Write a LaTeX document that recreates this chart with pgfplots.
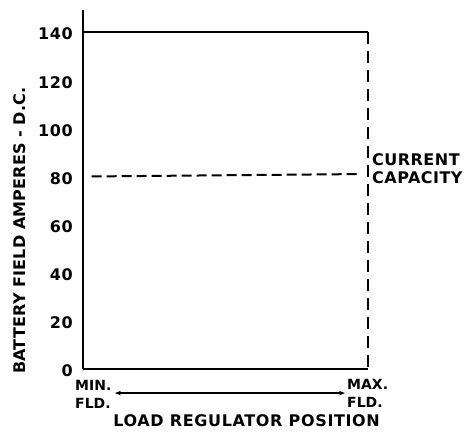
\documentclass[border=0pt]{standalone}
\usepackage{pgfplots}
\pgfplotsset{compat=1.18}
\usetikzlibrary{arrows.meta}
\usepackage{fontspec}
\setmainfont{DejaVu Sans}
\newcommand{\lf}[1]{\fontsize{#1}{#1}\selectfont\bfseries}
\newcommand{\ls}[1]{\fontsize{#1}{#1}\selectfont\bfseries\addfontfeature{LetterSpace=4}}
\begin{document}
\begin{tikzpicture}
\begin{axis}[
  scale only axis, width=285pt, height=358.6pt,
  xmin=0, xmax=1, ymin=0, ymax=149,
  axis x line=bottom, axis y line=left,
  axis line style={-, line width=2pt},
  xtick=\empty, ytick={0,20,...,140},
  major tick length=0pt,
  /pgf/number format/assume math mode=true,
  yticklabel style={font=\ls{16}, anchor=east, inner sep=0pt, xshift=-10pt, yshift=-2pt},
  clip=false,
]
\addplot[line width=2pt] coordinates {(0,140) (1,140)};
\addplot[line width=2pt, dash pattern=on 12pt off 7pt] coordinates {(1,140) (1,0)};
\addplot[line width=2pt, dash pattern=on 10pt off 5pt] coordinates {(0.03,80) (0.975,81)};
\addplot[line width=1.3pt, {Stealth[length=6pt,width=4.5pt]}-{Stealth[length=6pt,width=4.5pt]}] coordinates {(0.112,-10) (0.919,-10)};
\node[rotate=90, font=\lf{16}\addfontfeature{LetterSpace=1}, inner sep=0pt] at ([xshift=-63pt]axis cs:0,57.5) {BATTERY FIELD AMPERES - D.C.};
\node[font=\ls{16}, inner sep=0pt] at ([yshift=-52pt]axis cs:0.574,0) {LOAD REGULATOR POSITION};
\node[font=\fontsize{14}{18.5}\selectfont\bfseries, anchor=north west, inner sep=0pt, align=left] at ([xshift=-8pt,yshift=-11pt]axis cs:0,0) {MIN.\\FLD.};
\node[font=\fontsize{14}{18.5}\selectfont\bfseries, anchor=north west, inner sep=0pt, align=left] at ([xshift=-21pt,yshift=-10pt]axis cs:1,0) {MAX.\\FLD.};
\node[font=\fontsize{16}{18}\selectfont\bfseries\addfontfeature{LetterSpace=3}, anchor=north west, inner sep=0pt, align=left] at ([xshift=4pt]axis cs:1,89.7) {CURRENT\\CAPACITY};
\path ([xshift=-83pt,yshift=-69pt]axis cs:0,0) rectangle ([xshift=382pt,yshift=369pt]axis cs:0,0);
\end{axis}
\end{tikzpicture}
\end{document}
